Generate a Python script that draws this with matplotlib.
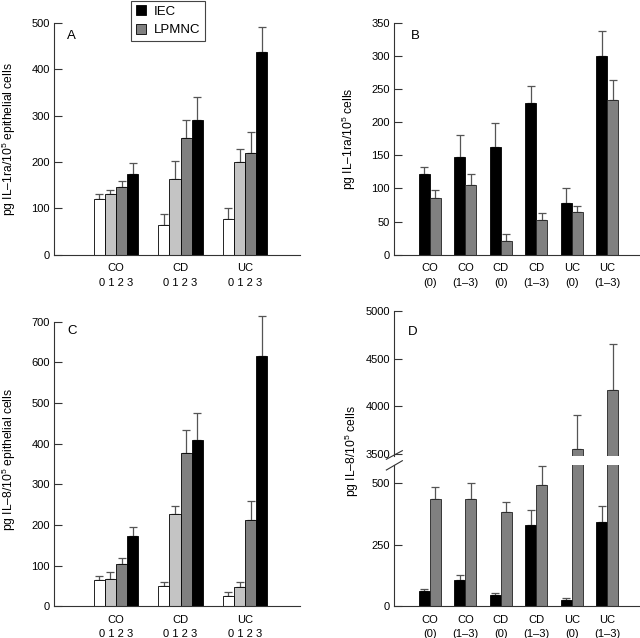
import numpy as np
import matplotlib.pyplot as plt
from matplotlib.patches import Patch

plt.rcParams['font.family'] = ['Liberation Sans', 'DejaVu Sans']
plt.rcParams['mathtext.fontset'] = 'custom'
plt.rcParams['mathtext.rm'] = 'Liberation Sans'

# Panels A and C: IEC from patients by inflammation grade 0-3
groups = ['CO', 'CD', 'UC']
grades = ['0', '1', '2', '3']
il1ra_iec = np.array([[120, 130, 146, 174], [63, 163, 251, 291], [78, 199, 219, 437]])
il1ra_iec_sem = np.array([[10, 10, 12, 23], [24, 38, 39, 48], [23, 28, 45, 53]])
il8_iec = np.array([[64, 68, 104, 172], [49, 226, 377, 408], [26, 47, 213, 616]])
il8_iec_sem = np.array([[10, 16, 16, 23], [10, 21, 56, 68], [8, 12, 45, 99]])

# Panels B and D: IEC vs LPMNC, non-inflamed (0) vs inflamed (1-3)
pairs = ['CO\n(0)', 'CO\n(1–3)', 'CD\n(0)', 'CD\n(1–3)', 'UC\n(0)', 'UC\n(1–3)']
il1ra_b_iec = [121, 147, 162, 229, 78, 300]
il1ra_b_iec_sem = [11, 33, 37, 26, 23, 38]
il1ra_b_lp = [85, 105, 21, 52, 64, 233]
il1ra_b_lp_sem = [12, 16, 10, 11, 10, 30]
il8_d_iec = [61, 108, 44, 332, 26, 344]
il8_d_iec_sem = [10, 18, 12, 60, 7, 64]
il8_d_lp = [438, 438, 384, 493, 3549, 4170]
il8_d_lp_sem = [48, 63, 42, 77, 354, 483]

grade_colors = ['white', '#c4c4c4', '#808080', 'black']
iec_color = 'black'
lp_color = '#808080'
err_kw = dict(fmt='none', ecolor='#555555', elinewidth=0.9, capsize=2.6, capthick=0.9)
spine_c = '#333333'


def style(ax, bottom=True):
    for s in ['top', 'right']:
        ax.spines[s].set_visible(False)
    for s in ['left', 'bottom']:
        ax.spines[s].set_color(spine_c)
        ax.spines[s].set_linewidth(0.8)
    if not bottom:
        ax.spines['bottom'].set_visible(False)
        ax.set_xticks([])
    ax.tick_params(axis='y', direction='in', length=6, width=0.8, color=spine_c,
                   labelsize=8, pad=3)
    ax.tick_params(axis='x', length=0, labelsize=8, pad=6)


def grade_panel(ax, vals, sem):
    w = 0.172
    x = np.arange(len(groups))
    for j in range(len(grades)):
        xs = x + (j - 1.5) * w
        ax.bar(xs, vals[:, j], w, color=grade_colors[j], edgecolor='black', linewidth=0.6, zorder=2)
        ax.errorbar(xs, vals[:, j], yerr=[np.zeros(3), sem[:, j]], zorder=1, **err_kw)
    ax.set_xlim(-0.96, 2.85)
    ax.set_xticks(x)
    ax.set_xticklabels([g + '\n' + ' '.join(grades) for g in groups], linespacing=1.6)


def pair_panel(ax, a, a_sem, b, b_sem):
    w = 0.31
    x = np.arange(len(pairs))
    ax.bar(x - w / 2, a, w, color=iec_color, edgecolor='black', linewidth=0.6, zorder=2)
    ax.bar(x + w / 2, b, w, color=lp_color, edgecolor='#222222', linewidth=0.6, zorder=2)
    ax.errorbar(x - w / 2, a, yerr=[np.zeros(6), a_sem], zorder=1, **err_kw)
    ax.errorbar(x + w / 2, b, yerr=[np.zeros(6), b_sem], zorder=1, **err_kw)
    ax.set_xlim(-1.01, 5.92)
    ax.set_xticks(x)
    ax.set_xticklabels(pairs, linespacing=1.6)


fig = plt.figure(figsize=(6.4, 6.38), dpi=100)

axA = fig.add_axes([0.0844, 0.6008, 0.3844, 0.3636])
grade_panel(axA, il1ra_iec, il1ra_iec_sem)
axA.set_ylim(0, 500)
axA.set_yticks(range(0, 501, 100))
style(axA)
axA.set_ylabel('pg IL–1ra/10$^5$ epithelial cells', fontsize=8.7)
axA.yaxis.set_label_coords(-0.148, 0.5)
axA.text(0.053, 0.943, 'A', transform=axA.transAxes, fontsize=9.5, va='center')

axB = fig.add_axes([0.6156, 0.6008, 0.3844, 0.3636])
pair_panel(axB, il1ra_b_iec, il1ra_b_iec_sem, il1ra_b_lp, il1ra_b_lp_sem)
axB.set_ylim(0, 350)
axB.set_yticks(range(0, 351, 50))
style(axB)
axB.set_ylabel('pg IL–1ra/10$^5$ cells', fontsize=8.7)
axB.yaxis.set_label_coords(-0.146, 0.5)
axB.text(0.068, 0.943, 'B', transform=axB.transAxes, fontsize=9.5, va='center')

axC = fig.add_axes([0.0844, 0.0497, 0.3844, 0.4588])
grade_panel(axC, il8_iec, il8_iec_sem)
axC.set_ylim(0, 720)
axC.set_yticks(range(0, 701, 100))
style(axC)
axC.spines['left'].set_bounds(0, 700)
axC.set_ylabel('pg IL–8/10$^5$ epithelial cells', fontsize=8.7)
axC.yaxis.set_label_coords(-0.148, 0.5)
axC.text(0.053, 0.94, 'C', transform=axC.transAxes, fontsize=9.5, va='center')

# Panel D with a broken y axis
axD = fig.add_axes([0.6156, 0.0497, 0.3844, 0.2215])
axDu = fig.add_axes([0.6156, 0.2845, 0.3844, 0.2280])
for ax in (axD, axDu):
    pair_panel(ax, il8_d_iec, il8_d_iec_sem, il8_d_lp, il8_d_lp_sem)
axD.set_ylim(0, 575)
axD.set_yticks([0, 250, 500])
axDu.set_ylim(3472, 5000)
axDu.set_yticks([3500, 4000, 4500, 5000])
style(axD)
style(axDu, bottom=False)
axDu.patch.set_visible(False)
axDu.text(0.057, 0.855, 'D', transform=axDu.transAxes, fontsize=9.5, va='center')
fig.text(352 / 640, 0.293, 'pg IL–8/10$^5$ cells', rotation=90, fontsize=8.7,
         ha='center', va='center')
for y0, y1 in [(-0.019, 0.040), (-0.093, -0.029)]:
    axDu.plot([-0.031, 0.034], [y0, y1], transform=axDu.transAxes, color=spine_c,
              lw=0.8, clip_on=False)

handles = [Patch(facecolor=iec_color, edgecolor='black', linewidth=0.6, label='IEC'),
           Patch(facecolor=lp_color, edgecolor='black', linewidth=0.6, label='LPMNC')]
leg = fig.legend(handles=handles, loc='upper left', bbox_to_anchor=(131 / 640, 0.999),
                 fontsize=9.5, frameon=True, fancybox=False, framealpha=1,
                 edgecolor='#444444', handlelength=0.8, handleheight=0.8,
                 handletextpad=0.6, borderpad=0.35, labelspacing=0.45, borderaxespad=0)
leg.get_frame().set_linewidth(0.8)

fig.savefig('out.png', dpi=100)
